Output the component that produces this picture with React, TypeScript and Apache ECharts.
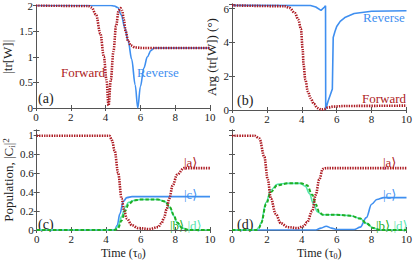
import React, { useEffect, useRef } from "react";
import * as echarts from "echarts";

// ---- data (x = time in tau0) ----
const xTicks = [0, 2, 4, 6, 8, 10];
const aTicks = [0, 0.5, 1, 1.5, 2];
const bTicks = [0, 2, 4, 6];
const cTicks = [0, 0.2, 0.4, 0.6, 0.8, 1];

const aForward = [[0, 2], [3, 1.99], [3.2, 1.96], [3.45, 1.82], [3.7, 1.45], [3.9, 1.0], [4.05, 0.55], [4.17, 0.05], [4.3, 0.55], [4.45, 1.1], [4.6, 1.6], [4.75, 1.9], [4.85, 1.95], [4.95, 1.9], [5.05, 1.72], [5.15, 1.5], [5.3, 1.3], [5.45, 1.22], [5.7, 1.18], [6.2, 1.17], [10, 1.17]];
const aReverse = [[0, 2], [4.3, 2], [4.5, 1.99], [4.7, 1.96], [4.9, 1.82], [5.1, 1.57], [5.3, 1.3], [5.5, 0.95], [5.7, 0.45], [5.85, 0.0], [6.0, 0.42], [6.2, 0.78], [6.4, 1.0], [6.6, 1.12], [6.8, 1.17], [10, 1.17]];

const bForward = [[0, 6.2], [3, 6.15], [3.3, 6.05], [3.6, 5.75], [3.8, 5.35], [3.95, 4.8], [4.05, 3.6], [4.1, 2.7], [4.2, 1.8], [4.35, 1.1], [4.5, 0.7], [4.7, 0.35], [4.9, 0.12], [5.1, 0.03], [5.3, 0.06], [5.5, 0.15], [5.8, 0.2], [6.5, 0.24], [10, 0.26]];
const bReverse = [[0, 6.2], [4.5, 6.19], [4.8, 6.1], [5.1, 5.9], [5.3, 6.1], [5.36, 6.18], [5.37, 0.05], [5.5, 0.5], [5.75, 1.25], [5.8, 4.3], [5.9, 4.65], [6.0, 4.95], [6.2, 5.25], [6.5, 5.5], [7, 5.72], [8, 5.85], [10, 5.88]];

const cA = [[0, 0.99], [4.2, 0.99], [4.35, 0.94], [4.5, 0.83], [4.7, 0.6], [4.9, 0.33], [5.05, 0.2], [5.2, 0.12], [5.5, 0.05], [5.85, 0.02], [6.5, 0.01], [7.0, 0.03], [7.2, 0.07], [7.35, 0.13], [7.5, 0.22], [7.65, 0.33], [7.85, 0.47], [8.1, 0.58], [8.5, 0.65], [10, 0.65]];
const cC = [[0, 0], [4.5, 0], [4.65, 0.05], [4.8, 0.17], [5.0, 0.3], [5.2, 0.34], [5.5, 0.35], [10, 0.35]];
const cB = [[0, 0], [4.5, 0], [4.7, 0.02], [4.9, 0.1], [5.1, 0.2], [5.3, 0.27], [5.6, 0.31], [6, 0.32], [7, 0.32], [7.4, 0.3], [7.7, 0.24], [7.9, 0.16], [8.1, 0.08], [8.4, 0.02], [8.8, 0], [10, 0]];
const cD = [[0, 0], [4.5, 0], [4.7, 0.04], [4.9, 0.14], [5.1, 0.24], [5.3, 0.29], [5.6, 0.31], [6, 0.32], [7, 0.32], [7.4, 0.3], [7.7, 0.23], [7.9, 0.15], [8.1, 0.08], [8.4, 0.02], [8.8, 0], [10, 0]];

const dA = [[0, 0.99], [1.3, 0.99], [1.57, 0.96], [1.85, 0.77], [2.05, 0.53], [2.23, 0.33], [2.5, 0.17], [2.8, 0.07], [3.2, 0.03], [3.75, 0.02], [4.1, 0.04], [4.3, 0.08], [4.6, 0.2], [4.8, 0.37], [5.0, 0.53], [5.2, 0.64], [5.4, 0.65], [10, 0.65]];
const dB = [[0, 0], [1.4, 0], [1.55, 0.02], [1.67, 0.07], [1.95, 0.27], [2.23, 0.4], [2.6, 0.47], [3.2, 0.49], [3.95, 0.49], [4.3, 0.47], [4.6, 0.37], [4.8, 0.27], [5.0, 0.19], [5.2, 0.16], [6.0, 0.16], [6.8, 0.15], [7.35, 0.12], [7.7, 0.07], [8.1, 0.02], [8.5, 0], [10, 0]];
const dD = [[0, 0], [1.4, 0], [1.55, 0.03], [1.67, 0.08], [1.95, 0.29], [2.23, 0.42], [2.6, 0.48], [3.2, 0.49], [3.9, 0.49], [4.2, 0.46], [4.45, 0.38], [4.65, 0.28], [4.9, 0.19], [5.2, 0.16], [6.0, 0.16], [6.8, 0.15], [7.35, 0.12], [7.7, 0.07], [8.1, 0.02], [8.5, 0], [10, 0]];
const dC = [[0, 0], [4.8, 0], [5.1, 0.02], [5.4, 0.04], [5.7, 0.02], [6.0, 0.005], [7.0, 0.005], [7.35, 0.03], [7.7, 0.13], [8.0, 0.27], [8.3, 0.32], [8.7, 0.34], [10, 0.34]];

const FONT = "'Liberation Serif', 'DejaVu Serif', serif";
const RED = "#ad1a22";
const BLUE = "#3f8ff0";
const GREEN = "#1fae24";
const MINT = "#55e6ad";
const AX = "#555";

export default function App() {
  const ref = useRef<HTMLDivElement>(null);
  useEffect(() => {
    const chart = echarts.init(ref.current!, null, { renderer: "svg" });
    const grids = [
      { left: 34, top: 5, width: 176, height: 103 },
      { left: 232, top: 4, width: 175, height: 106 },
      { left: 34, top: 130, width: 176, height: 105 },
      { left: 232, top: 130, width: 175, height: 105 },
    ];
    const lbl = { fontFamily: FONT, fontSize: 11, color: "#222" };
    const xAxes: any[] = [];
    const yAxes: any[] = [];
    const yCfg = [
      { max: 2, interval: 0.5, ticks: aTicks, show: true, name: "|tr[W]|", gap: 22 },
      { max: 6.28, interval: 2, ticks: bTicks, show: true, name: "Arg (tr[W]) (°)", gap: 14 },
      { max: 1.05, interval: 0.2, ticks: cTicks, show: true, name: "Population, |C{s|i}|{p|2}", gap: 20 },
      { max: 1.05, interval: 0.2, ticks: cTicks, show: false, name: "", gap: 0 },
    ];
    grids.forEach((_, i) => {
      const isBottom = i >= 2;
      xAxes.push({
        type: "value", gridIndex: i, min: xTicks[0], max: xTicks[xTicks.length - 1], interval: 2,
        axisLine: { show: true, lineStyle: { color: AX, width: 1 } },
        axisTick: { show: true, inside: true, length: 3, lineStyle: { color: AX } },
        axisLabel: { ...lbl, margin: 3 },
        splitLine: { show: false },
        name: isBottom ? "Time (τ{s|0})" : "",
        nameLocation: "middle", nameGap: 16,
        nameTextStyle: { fontFamily: FONT, fontSize: 12, color: "#222", rich: { s: { fontFamily: FONT, fontSize: 8, verticalAlign: "bottom", padding: [6, 0, 0, 0], color: "#222" } } },
      });
      xAxes.push({
        type: "value", gridIndex: i, position: "top", min: 0, max: 10, interval: 2,
        axisLine: { show: true, lineStyle: { color: AX } },
        axisTick: { show: true, inside: true, length: 3, lineStyle: { color: AX } },
        axisLabel: { show: false }, splitLine: { show: false },
      });
      const c = yCfg[i];
      yAxes.push({
        type: "value", gridIndex: i, min: 0, max: c.max, interval: c.interval,
        axisLine: { show: true, lineStyle: { color: AX } },
        axisTick: { show: true, inside: true, length: 3, lineStyle: { color: AX } },
        axisLabel: {
          ...lbl, show: c.show, margin: 3,
          formatter: (v: number) => (c.ticks.some((t) => Math.abs(t - v) < 1e-6) ? String(+v.toFixed(2)) : ""),
        },
        splitLine: { show: false },
        name: c.name, nameLocation: "middle", nameGap: c.gap,
        nameTextStyle: {
          fontFamily: FONT, fontSize: 13, color: "#222",
          rich: {
            s: { fontFamily: FONT, fontSize: 9, color: "#222", padding: [6, 0, 0, 0] },
            p: { fontFamily: FONT, fontSize: 9, color: "#222", padding: [0, 0, 6, 0] },
          },
        },
      });
      yAxes.push({
        type: "value", gridIndex: i, position: "right", min: 0, max: c.max, interval: c.interval,
        axisLine: { show: true, lineStyle: { color: AX } },
        axisTick: { show: true, inside: true, length: 3, lineStyle: { color: AX } },
        axisLabel: { show: false }, splitLine: { show: false },
      });
    });

    const redLine = { color: RED, width: 2.6, type: [1.4, 1.1] as any };
    const mk = (data: number[][], g: number, ls: any, smooth: any = 0.35) => ({
      type: "line", xAxisIndex: g * 2, yAxisIndex: g * 2, data, showSymbol: false, symbol: "none",
      smooth, smoothMonotone: smooth ? "x" : undefined, lineStyle: ls, silent: true,
    });
    const blueLine = { color: BLUE, width: 1.6 };
    const greenLine = { color: GREEN, width: 2, type: [3.5, 2] as any };
    const mintLine = { color: MINT, width: 1.6 };

    const series = [
      mk(aReverse, 0, blueLine),
      mk(aForward, 0, redLine),
      mk(bReverse, 1, blueLine, false),
      mk(bForward, 1, redLine),
      mk(cC, 2, blueLine),
      mk(cD, 2, mintLine),
      mk(cB, 2, greenLine),
      mk(cA, 2, redLine),
      mk(dC, 3, blueLine),
      mk(dD, 3, mintLine),
      mk(dB, 3, greenLine),
      mk(dA, 3, redLine),
    ];

    const txt = (text: string, x: number, y: number, fill: string, size = 13) => ({
      type: "text", x, y, silent: true,
      style: { text, fill, font: `${size}px ${FONT}`, textVerticalAlign: "middle" },
    });
    const bd = (x: number, y: number) => ({
      type: "text", x, y, silent: true,
      style: {
        text: "{g||b⟩,}{m||d⟩}",
        font: `13px ${FONT}`,
        textVerticalAlign: "middle",
        rich: {
          g: { fill: GREEN, font: `13px ${FONT}` },
          m: { fill: MINT, font: `13px ${FONT}` },
        },
      },
    });

    const graphic = [
      txt("(a)", 38, 98, "#222", 14),
      txt("Forward", 61, 72, RED, 13),
      txt("Reverse", 137, 72, BLUE, 13),
      txt("(b)", 237, 100, "#222", 14),
      txt("Reverse", 363, 17, BLUE, 13),
      txt("Forward", 362, 98, RED, 13),
      txt("(c)", 38, 224, "#222", 14),
      txt("|a⟩", 184, 162, RED, 13),
      txt("|c⟩", 184, 194, BLUE, 13),
      bd(170, 225),
      txt("(d)", 237, 224, "#222", 14),
      txt("|a⟩", 383, 162, RED, 13),
      txt("|c⟩", 383, 194, BLUE, 13),
      bd(376, 225),
    ];

    chart.setOption({
      animation: false,
      backgroundColor: "#fff",
      grid: grids,
      xAxis: xAxes,
      yAxis: yAxes,
      series,
      graphic,
    });
    return () => chart.dispose();
  }, []);
  return <div ref={ref} style={{ width: 415, height: 261, position: "absolute", left: 0, top: 0 }} />;
}
